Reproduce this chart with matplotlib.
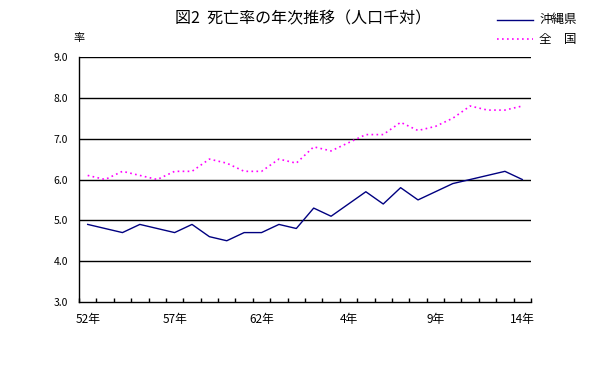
import matplotlib
matplotlib.use("Agg")
import matplotlib.pyplot as plt
from matplotlib.lines import Line2D

plt.rcParams['font.family'] = ['Noto Sans CJK JP', 'DejaVu Sans']

years = ["52年", "53年", "54年", "55年", "56年", "57年", "58年", "59年", "60年", "61年",
         "62年", "63年", "元年", "2年", "3年", "4年", "5年", "6年", "7年", "8年",
         "9年", "10年", "11年", "12年", "13年", "14年"]
okinawa = [4.9, 4.8, 4.7, 4.9, 4.8, 4.7, 4.9, 4.6, 4.5, 4.7,
           4.7, 4.9, 4.8, 5.3, 5.1, 5.4, 5.7, 5.4, 5.8, 5.5,
           5.7, 5.9, 6.0, 6.1, 6.2, 6.0]
national = [6.1, 6.0, 6.2, 6.1, 6.0, 6.2, 6.2, 6.5, 6.4, 6.2,
            6.2, 6.5, 6.4, 6.8, 6.7, 6.9, 7.1, 7.1, 7.4, 7.2,
            7.3, 7.5, 7.8, 7.7, 7.7, 7.8]
shown_labels = ["52年", "57年", "62年", "4年", "9年", "14年"]
yticks = [3.0, 4.0, 5.0, 6.0, 7.0, 8.0, 9.0]

W, H = 604, 381
fig = plt.figure(figsize=(W / 100, H / 100), dpi=100)
ax = fig.add_axes([79 / W, (H - 302) / H, (531 - 79) / W, (302 - 57) / H])

x = list(range(len(years)))
ax.plot(x, okinawa, color='#000080', lw=1.0, label='沖縄県')
ax.plot(x, national, color='#FF00FF', lw=1.2, ls=(0, (1, 2)), label='全　国')

ax.set_xlim(-0.5, len(years) - 0.5)
ax.set_ylim(3.0, 9.0)
ax.set_yticks(yticks)
ax.set_yticklabels([f"{v:.1f}" for v in yticks], fontsize=7.5)
for v in yticks[1:]:
    ax.axhline(v, color='black', lw=1.0, zorder=0)

ax.set_xticks([i + 0.5 for i in range(-1, len(years))], minor=True)
ax.set_xticks([years.index(l) for l in shown_labels])
ax.set_xticklabels(shown_labels, fontsize=8.5)
ax.tick_params(axis='x', which='major', length=0, pad=8)
ax.tick_params(axis='x', which='minor', direction='in', length=3, width=1)
ax.tick_params(axis='y', length=0, pad=8)
for s in ['top', 'right']:
    ax.spines[s].set_visible(False)
for s in ['left', 'bottom']:
    ax.spines[s].set_linewidth(1.0)

fig.text(79 / W, (H - 38) / H, '率', fontsize=8, ha='center', va='center')
fig.text(303 / W, (H - 19) / H, '図2  死亡率の年次推移（人口千対）', fontsize=11.5, ha='center', va='center')

# legend
fig.add_artist(Line2D([497 / W, 533 / W], [(H - 20) / H] * 2, color='#000080', lw=1.0))
fig.add_artist(Line2D([497 / W, 533 / W], [(H - 39) / H] * 2, color='#FF00FF', lw=1.2, ls=(0, (1, 2))))
fig.text(539 / W, (H - 20) / H, '沖縄県', fontsize=9, ha='left', va='center')
fig.text(539 / W, (H - 39) / H, '全　国', fontsize=9, ha='left', va='center')

fig.savefig('out.png', dpi=100)
